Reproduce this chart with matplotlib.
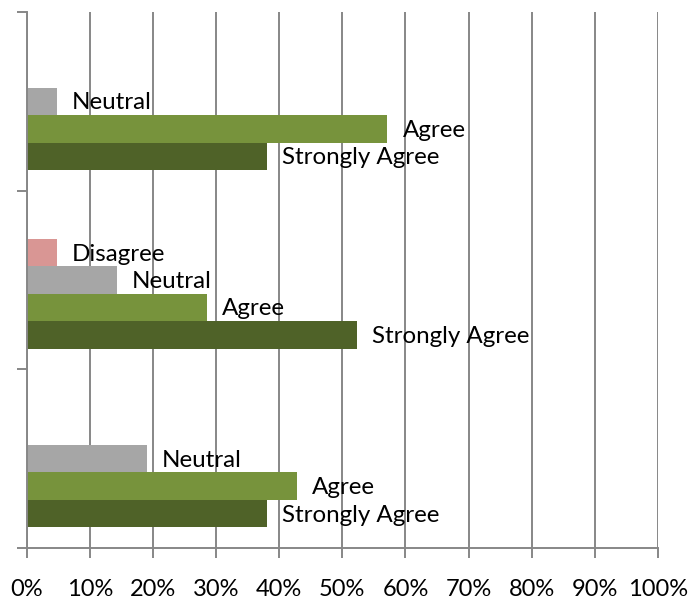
import matplotlib
matplotlib.use("Agg")
import matplotlib.pyplot as plt
import numpy as np

plt.rcParams['font.family'] = ['Lato', 'DejaVu Sans']

categories = ["Group 1", "Group 2", "Group 3"]  # bottom to top
series = ["Strongly Agree", "Agree", "Neutral", "Disagree", "Strongly Disagree"]
strongly_agree = [8/21, 11/21, 8/21]
agree = [9/21, 6/21, 12/21]
neutral = [4/21, 3/21, 1/21]
disagree = [0, 1/21, 0]
strongly_disagree = [0, 0, 0]
values = [strongly_agree, agree, neutral, disagree, strongly_disagree]
colors = ["#4F6228", "#77933C", "#A6A6A6", "#D99694", "#8064A2"]
xtick_labels = ["0%", "10%", "20%", "30%", "40%", "50%", "60%", "70%", "80%", "90%", "100%"]

fig = plt.figure(figsize=(7.0, 6.06), dpi=100)
ax = fig.add_axes([0.038, 0.0957, 0.902, 0.8843])

n = len(series)
h = 1.0 / (n + 1.5)
y = np.arange(len(categories))
for i, (name, vals, col) in enumerate(zip(series, values, colors)):
    pos = y + (i - (n - 1) / 2) * h
    ax.barh(pos, vals, height=h, color=col, edgecolor='none', zorder=3)
    for p, v in zip(pos, vals):
        if v > 0:
            ax.text(v + 0.024, p - 0.008, name, va='center', ha='left', fontsize=17.4, color='black', zorder=4)

ax.set_xlim(0, 1)
ax.set_ylim(-0.5, len(categories) - 0.5)
ax.set_xticks(np.linspace(0, 1, 11))
ax.set_xticklabels(xtick_labels, fontsize=17.0)
ax.set_yticks(np.arange(-0.5, len(categories), 1.0))
ax.set_yticklabels([])
ax.xaxis.grid(True, color='#878787', linewidth=1.4, zorder=0)
ax.yaxis.grid(False)
for s in ['top', 'right']:
    ax.spines[s].set_visible(False)
for s in ['left', 'bottom']:
    ax.spines[s].set_color('#878787')
    ax.spines[s].set_linewidth(1.4)
    ax.spines[s].set_zorder(5)
ax.tick_params(axis='x', length=7, width=1.4, color='#878787', pad=15.5)
ax.tick_params(axis='y', length=7, width=1.4, color='#878787')
ax.set_axisbelow(True)

fig.savefig("out.png", dpi=100)
